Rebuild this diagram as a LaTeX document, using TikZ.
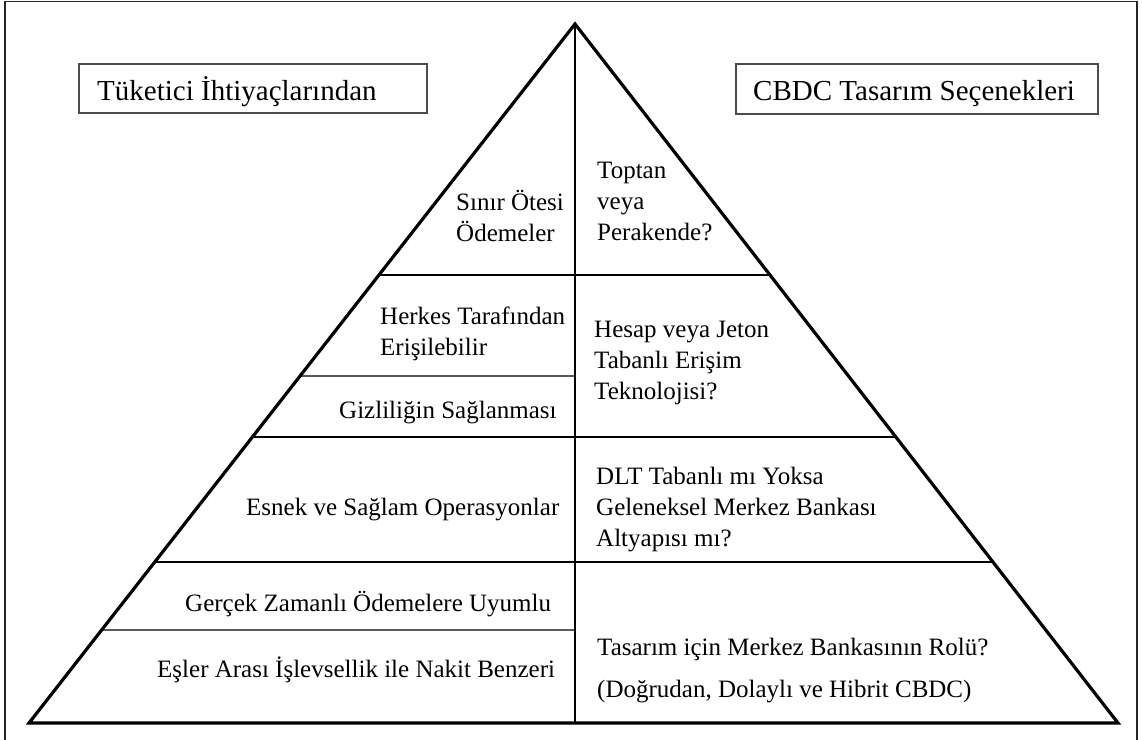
\documentclass[tikz,border=0pt]{standalone}
\usepackage{fontspec}
\setmainfont{Liberation Serif}
\usetikzlibrary{calc}
\tikzset{
  edge/.style={line width=3.2pt, line join=miter},
  tier/.style={line width=2.4pt},
  thin/.style={line width=1.4pt},
  label/.style={anchor=base west, inner sep=0pt, align=left,
    font=\fontsize{25}{30.8}\selectfont},
  headlabel/.style={anchor=base west, inner sep=0pt,
    font=\fontsize{29}{34}\selectfont},
  headbox/.style={draw=black!70, line width=1.1pt, inner sep=0pt}
}
\begin{document}
\begin{tikzpicture}[x=1pt, y=-1pt]
\useasboundingbox (0,0) rectangle (1142,739);
% frame (bottom edge falls outside the page)
\draw[line width=1.8pt, black!85] (5,745) -- (5,1.5) -- (1137,1.5) -- (1137,745);

% pyramid corners
\coordinate (apex) at (575,24);
\coordinate (bl) at (29,723);
\coordinate (br) at (1118,723);
\coordinate (mid) at (575,723);

% tier boundaries on the sides
\foreach \y/\n in {275/a,376/b,437/c,562/d,630/e}{
  \coordinate (L\n) at ($(apex)!{(\y-24)/699}!(bl)$);
  \coordinate (R\n) at ($(apex)!{(\y-24)/699}!(br)$);
  \coordinate (M\n) at (575,\y);
}

% header boxes
\draw[headbox] (79,64) rectangle (427,113);
\draw[headbox] (736,64) rectangle (1098,114);
\node[headlabel] (hl) at (97,100) {Tüketici İhtiyaçlarından};
\node[headlabel] (hr) at (753,100) {CBDC Tasarım Seçenekleri};

% tier lines
\draw[tier] (La) -- (Ra);
\draw[tier] (Lc) -- (Rc);
\draw[tier] (Ld) -- (Rd);
\draw[thin] (Lb) -- (Mb);
\draw[thin] (Le) -- (Me);

% centre line and outline
\draw[tier] (apex) -- (mid);
\draw[edge] (apex) -- (bl) -- (br) -- cycle;

% left column (anchored at the baseline of the last line)
\node[label] (t1) at (456,241) {Sınır Ötesi\\Ödemeler};
\node[label] (t2) at (380,355) {Herkes Tarafından\\Erişilebilir};
\node[label] (t3) at (339,418) {Gizliliğin Sağlanması};
\node[label] (t4) at (246,515) {Esnek ve Sağlam Operasyonlar};
\node[label] (t5) at (185,611) {Gerçek Zamanlı Ödemelere Uyumlu};
\node[label] (t6) at (157,677) {Eşler Arası İşlevsellik ile Nakit Benzeri};

% right column
\node[label] (r1) at (597,240) {Toptan\\veya\\Perakende?};
\node[label] (r2) at (594,399) {Hesap veya Jeton\\Tabanlı Erişim\\Teknolojisi?};
\node[label] (r3) at (596,546) {DLT Tabanlı mı Yoksa\\Geleneksel Merkez Bankası\\Altyapısı mı?};
\node[label] (r4) at (597,655) {Tasarım için Merkez Bankasının Rolü?};
\node[label] (r5) at (597,697) {(Doğrudan, Dolaylı ve Hibrit CBDC)};
\end{tikzpicture}
\end{document}
